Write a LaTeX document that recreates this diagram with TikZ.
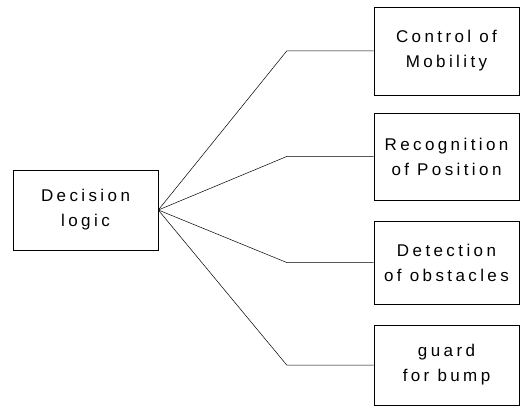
\documentclass[tikz,border=0pt]{standalone}
\usepackage{fontspec}
\setmainfont[LetterSpace=20]{Liberation Sans}
\usepackage{tikz}
\usetikzlibrary{positioning}

\begin{document}
\begin{tikzpicture}[x=1pt, y=-1pt,
				box/.style={draw, line width=0.6pt, minimum width=145pt, minimum height=82pt,
					align=center, inner sep=0pt, font=\fontsize{17}{25}\selectfont},
				line width=0.5pt]
				%Bildbereich
				\useasboundingbox (0,0) rectangle (522,406);
				% Kaesten
				\node[box, minimum height=80pt] (logic) at (85.5,210) {Decision\\logic};
				\node[box, minimum height=88pt] (mob)  at (446.5,51)  {Control of\\Mobility};
				\node[box, minimum height=87pt] (pos)  at (446.5,156.5) {Recognition\\of Position};
				\node[box, minimum height=83pt] (obs)  at (446.5,262.5) {Detection\\of obstacles};
				\node[box, minimum height=80pt] (bump) at (446.5,365) {guard\\for bump};
				% Verbindungen zeichnen
				\foreach \n in {mob,pos,obs,bump}
					\draw (logic.east) -- ([xshift=-87pt]\n.west) -- (\n.west);
			\end{tikzpicture}
\end{document}
